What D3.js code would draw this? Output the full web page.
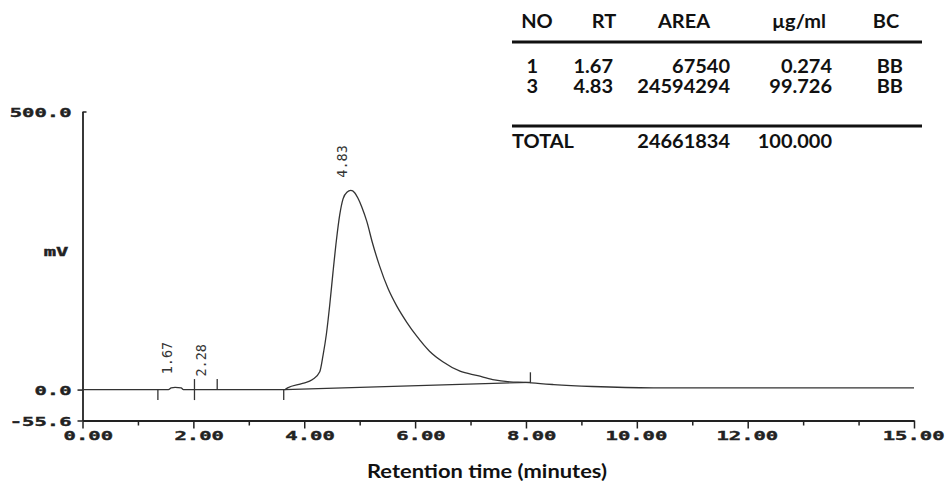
<!DOCTYPE html>
<html>
  <head>
    <meta charset="utf-8">
    <title>Chromatogram</title>
    <script src="https://d3js.org/d3.v7.min.js"></script>
    <style>
      body { margin: 0; background: #fff; }
      .tick-lbl { font-family: "DejaVu Sans Mono", monospace; font-weight: bold; font-size: 13px; fill: #222; stroke: #222; stroke-width: 0.4px; }
      .peak-lbl { font-family: "DejaVu Sans Mono", monospace; font-size: 13.5px; fill: #333; }
      .tbl { font-family: Lato, "Open Sans", sans-serif; font-weight: bold; font-size: 18.5px; fill: #111; }
    </style>
  </head>
  <body>
    <div id="chart"></div>
    <script>
      // signal trace, time (min) and response (mV)
      var times = [0, 1.55, 1.60, 1.67, 1.78, 1.82, 3.65, 3.70, 3.97, 4.15, 4.28, 4.34, 4.40, 4.46, 4.52,
                   4.58, 4.64, 4.70, 4.77, 4.84, 4.91, 4.97, 5.04, 5.13, 5.23, 5.36, 5.51, 5.67, 5.85,
                   6.03, 6.26, 6.50, 6.81, 7.13, 7.40, 7.71, 8.00, 8.10, 8.50, 9.20, 10.3, 15.0];
      var signal = [0, 0, 3, 4, 3, 0, 0, 3, 11, 18, 32, 62, 100, 152, 212,
                    268, 314, 343, 355, 358, 354, 344, 328, 302, 264, 222, 182, 150, 121,
                    96, 69, 50, 33, 25, 18, 14, 13, 12, 9, 5.5, 3, 3];

      // integration baseline under the main peak
      var baseTimes = [3.65, 8.08];
      var baseValues = [0, 13];

      // integrator event marks
      var markTimes = [1.36, 2.02, 2.43, 3.63, 8.08];
      var markDirs = ["down", "both", "up", "down", "up"];

      // retention time labels
      var peakRT = [1.67, 2.28, 4.83];

      // axis ticks
      var xMajor = [0, 2, 4, 6, 8, 10, 12, 15];
      var xMinor = [1, 3, 5, 7, 9, 11, 13, 14];
      var yTicks = [500, 0, -55.6];

      // results table
      var tblHeader = ["NO", "RT", "AREA", "\u00b5g/ml", "BC"];
      var tblNo = ["1", "3"];
      var tblRT = ["1.67", "4.83"];
      var tblArea = ["67540", "24594294"];
      var tblConc = ["0.274", "99.726"];
      var tblBC = ["BB", "BB"];
      var totalArea = "24661834";
      var totalConc = "100.000";

      var W = 948, H = 484;
      var svg = d3.select("#chart").append("svg")
        .attr("width", W).attr("height", H);

      var x = d3.scaleLinear().domain([0, 15]).range([82.5, 914]);
      var y = d3.scaleLinear().domain([-55.6, 500]).range([420.5, 111.5]);
      var sx = 1.58; // the printout font is stretched wide

      // X axis, minor ticks first
      svg.append("g")
        .attr("transform", "translate(0," + y(-55.6) + ")")
        .call(d3.axisBottom(x).tickValues(xMinor).tickSize(5).tickSizeOuter(0).tickFormat(""))
        .call(function(g) { g.select(".domain").remove(); })
        .selectAll("line").attr("stroke", "#222").attr("stroke-width", 1.5);

      var xa = svg.append("g")
        .attr("transform", "translate(0," + y(-55.6) + ")")
        .call(d3.axisBottom(x).tickValues(xMajor).tickSize(8).tickSizeOuter(0)
          .tickFormat(function(d) { return d.toFixed(2); }));
      xa.select(".domain").attr("stroke", "#222").attr("stroke-width", 1.8);
      xa.selectAll("line").attr("stroke", "#222").attr("stroke-width", 1.5);
      xa.selectAll("text")
        .attr("class", "tick-lbl")
        .attr("font-size", null).attr("font-family", null)
        .attr("text-anchor", "end")
        .attr("y", 20).attr("dy", 0)
        .attr("x", 30 / sx)
        .attr("transform", "scale(" + sx + ",1)");

      // Y axis
      var ya = svg.append("g")
        .attr("transform", "translate(" + x(0) + ",0)")
        .call(d3.axisLeft(y).tickValues(yTicks).tickSize(5).tickSizeOuter(0)
          .tickFormat(function(d) { return d.toFixed(1); }));
      ya.select(".domain").attr("stroke", "#222").attr("stroke-width", 1.8);
      ya.selectAll("line").attr("stroke", "#222").attr("stroke-width", 1.5)
        .filter(function(d) { return d === 500; }).attr("x2", 4);
      ya.selectAll("text")
        .attr("class", "tick-lbl")
        .attr("font-size", null).attr("font-family", null)
        .attr("x", -11 / sx).attr("dy", "0.36em")
        .attr("transform", "scale(" + sx + ",1)");

      svg.append("text")
        .attr("class", "tick-lbl")
        .attr("text-anchor", "middle")
        .attr("transform", "translate(56,256) scale(" + sx + ",1)")
        .text("mV");

      svg.append("text")
        .attr("class", "tbl")
        .attr("font-size", 14.5)
        .attr("x", 367).attr("y", 478)
        .attr("textLength", 240).attr("lengthAdjust", "spacingAndGlyphs")
        .text("Retention time (minutes)");

      // trace
      var line = d3.line()
        .x(function(d) { return x(d[0]); })
        .y(function(d) { return y(d[1]); })
        .curve(d3.curveMonotoneX);

      svg.append("path")
        .datum(d3.zip(times, signal))
        .attr("d", line)
        .attr("fill", "none").attr("stroke", "#333").attr("stroke-width", 1.3);

      svg.append("path")
        .datum(d3.zip(baseTimes, baseValues))
        .attr("d", d3.line().x(function(d) { return x(d[0]); }).y(function(d) { return y(d[1]); }))
        .attr("fill", "none").attr("stroke", "#333").attr("stroke-width", 1.2);

      function signalAt(t) {
        var i = d3.bisectLeft(times, t);
        if (i <= 0) return signal[0];
        if (i >= times.length) return signal[signal.length - 1];
        var f = (t - times[i - 1]) / (times[i] - times[i - 1]);
        return signal[i - 1] + f * (signal[i] - signal[i - 1]);
      }

      // event marks
      svg.append("g").selectAll("line")
        .data(d3.zip(markTimes, markDirs))
        .join("line")
          .attr("x1", function(d) { return x(d[0]); })
          .attr("x2", function(d) { return x(d[0]); })
          .attr("y1", function(d) { return y(signalAt(d[0])) - (d[1] === "down" ? 0 : 10.5); })
          .attr("y2", function(d) { return y(signalAt(d[0])) + (d[1] === "up" ? 0 : 10.5); })
          .attr("stroke", "#333").attr("stroke-width", 1.3);

      // retention time labels
      svg.append("g").selectAll("text")
        .data(peakRT)
        .join("text")
          .attr("class", "peak-lbl")
          .attr("transform", function(d) {
            return "translate(" + (x(d) - 3) + "," + (y(signalAt(d)) - 13) + ") rotate(-90)";
          })
          .text(function(d) { return d.toFixed(2); });

      // results table
      var ts = 1.08;
      var tbl = svg.append("g").attr("transform", "scale(" + ts + ",1)");
      var headX = [537, 604, 684, 799, 886];
      var colRight = [538, 613, 730, 832, 903];
      var rowY = [73, 93];

      tbl.selectAll("text.head")
        .data(tblHeader)
        .join("text")
          .attr("class", "tbl head")
          .attr("text-anchor", "middle")
          .attr("x", function(d, i) { return headX[i] / ts; })
          .attr("y", 28)
          .text(function(d) { return d; });

      [tblNo, tblRT, tblArea, tblConc, tblBC].forEach(function(col, c) {
        tbl.append("g").selectAll("text")
          .data(col)
          .join("text")
            .attr("class", "tbl")
            .attr("text-anchor", "end")
            .attr("x", colRight[c] / ts)
            .attr("y", function(d, i) { return rowY[i]; })
            .text(function(d) { return d; });
      });

      [42, 126].forEach(function(ly) {
        tbl.append("line")
          .attr("x1", 512 / ts).attr("x2", 922 / ts)
          .attr("y1", ly).attr("y2", ly)
          .attr("stroke", "#111").attr("stroke-width", 3);
      });

      tbl.append("text").attr("class", "tbl")
        .attr("x", 512 / ts).attr("y", 148).text("TOTAL");
      tbl.append("text").attr("class", "tbl").attr("text-anchor", "end")
        .attr("x", colRight[2] / ts).attr("y", 148).text(totalArea);
      tbl.append("text").attr("class", "tbl").attr("text-anchor", "end")
        .attr("x", colRight[3] / ts).attr("y", 148).text(totalConc);
    </script>
  </body>
</html>
